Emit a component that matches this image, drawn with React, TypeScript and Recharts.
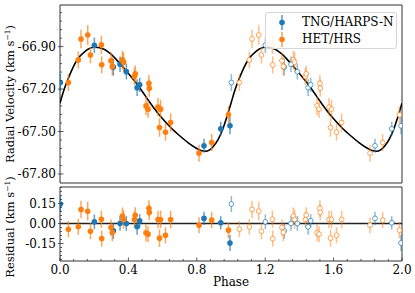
import {
  ComposedChart,
  Scatter,
  Line,
  XAxis,
  YAxis,
  ErrorBar,
  ReferenceArea,
  ReferenceLine,
  Legend,
} from 'recharts';

const FONT = '"DejaVu Serif", serif';
const BLUE = '#1f77b4';
const ORANGE = '#ff7f0e';
const SPINE = '#333';

const SERIES_NAMES = ['TNG/HARPS-N', 'HET/HRS'];

// TNG/HARPS-N (phase, RV km/s, error, residual)
const harpsPhase = [0.002, 0.201, 0.312, 0.351, 0.388, 0.451, 0.466, 0.842, 0.94, 0.994];
const harpsRV = [-67.154, -66.89, -67.045, -67.025, -67.077, -67.19, -67.17, -67.601, -67.481, -67.46];
const harpsErr = [0.06, 0.055, 0.06, 0.055, 0.055, 0.06, 0.05, 0.05, 0.05, 0.06];
const harpsRes = [0.145, 0.012, -0.055, 0.0, 0.0, -0.025, 0.02, 0.038, 0.005, -0.146];

// HET/HRS
const hrsPhase = [
  0.049, 0.107, 0.123, 0.162, 0.178, 0.242, 0.244, 0.298, 0.306, 0.365, 0.372, 0.435, 0.44,
  0.503, 0.515, 0.52, 0.522, 0.573, 0.582, 0.588, 0.617, 0.647, 0.813, 0.887, 0.985,
];
const hrsRV = [
  -67.154, -66.994, -66.846, -66.818, -66.959, -66.888, -67.029, -67.0, -67.04, -66.994, -67.01,
  -67.112, -67.093, -67.319, -67.342, -67.16, -67.194, -67.328, -67.472, -67.342, -67.505, -67.437,
  -67.653, -67.578, -67.382,
];
const hrsErr = [
  0.06, 0.06, 0.065, 0.07, 0.06, 0.065, 0.06, 0.06, 0.065, 0.065, 0.07, 0.06, 0.06, 0.065, 0.06,
  0.06, 0.06, 0.065, 0.065, 0.065, 0.06, 0.065, 0.06, 0.06, 0.06,
];
const hrsRes = [
  -0.043, -0.025, 0.105, 0.092, -0.058, 0.032, -0.113, -0.03, -0.068, 0.055, 0.03, 0.03, 0.062,
  -0.07, -0.08, 0.113, 0.083, 0.03, -0.11, 0.03, -0.088, 0.03, -0.013, 0.025, -0.05,
];

// orbit model, one cycle
const modelPhase = [
  0, 0.025, 0.05, 0.075, 0.1, 0.15, 0.2, 0.25, 0.3, 0.35, 0.4, 0.45, 0.5, 0.55, 0.6, 0.65, 0.7,
  0.75, 0.8, 0.825, 0.85, 0.875, 0.9, 0.925, 0.95, 0.975,
];
const modelRV = [
  -67.3, -67.2, -67.12, -67.05, -66.995, -66.93, -66.905, -66.915, -66.955, -67.02, -67.09,
  -67.165, -67.25, -67.335, -67.41, -67.475, -67.53, -67.58, -67.62, -67.635, -67.64, -67.63,
  -67.6, -67.555, -67.49, -67.4,
];

// axes
const X_DOMAIN = [0, 2];
const RV_DOMAIN = [-67.864, -66.606];
const RES_DOMAIN = [-0.281, 0.273];
const X_MAJOR = [0, 0.4, 0.8, 1.2, 1.6, 2.0];
const X_LABELS = ['0.0', '0.4', '0.8', '1.2', '1.6', '2.0'];
const X_MINOR = [0.08, 0.16, 0.24, 0.32, 0.48, 0.56, 0.64, 0.72, 0.88, 0.96, 1.04, 1.12, 1.28, 1.36, 1.44, 1.52, 1.68, 1.76, 1.84, 1.92];
const RV_MAJOR = [-66.9, -67.2, -67.5, -67.8];
const RV_LABELS = ['-66.90', '-67.20', '-67.50', '-67.80'];
const RV_MINOR = [-66.66, -66.72, -66.78, -66.84, -66.96, -67.02, -67.08, -67.14, -67.26, -67.32, -67.38, -67.44, -67.56, -67.62, -67.68, -67.74];
const RES_MAJOR = [0.15, 0, -0.15];
const RES_LABELS = ['0.15', '0.00', '-0.15'];
const RES_MINOR = [0.27, 0.24, 0.21, 0.18, 0.12, 0.09, 0.06, 0.03, -0.03, -0.06, -0.09, -0.12, -0.18, -0.21, -0.24, -0.27];

const pts = (phase: number[], vals: number[], err: number[], shift: number) =>
  phase.map((p, i) => ({ x: p + shift, y: vals[i], err: err[i] }));

const modelData = [0, 1]
  .flatMap((k) => modelPhase.map((p, i) => ({ x: p + k, y: modelRV[i] })))
  .concat({ x: 2, y: modelRV[0] });

const xTicks = [...X_MAJOR, ...X_MINOR].sort((a, b) => a - b);

const findIdx = (arr: number[], v: number) => arr.findIndex((m) => Math.abs(m - v) < 1e-6);

const XTick = (props: any) => {
  const { x, y, payload, inward, showLabels } = props;
  const idx = findIdx(X_MAJOR, payload.value);
  const len = idx >= 0 ? 3.5 : 2;
  return (
    <g>
      <line x1={x} x2={x} y1={y} y2={y + inward * len} stroke={SPINE} strokeWidth={0.8} />
      {showLabels && idx >= 0 && (
        <text x={x} y={y + 13} textAnchor="middle" fontFamily={FONT} fontSize={12} fill="#000">
          {X_LABELS[idx]}
        </text>
      )}
    </g>
  );
};

const YTick = (props: any) => {
  const { x, y, payload, major, labels } = props;
  const idx = findIdx(major, payload.value);
  return (
    <g>
      <line
        x1={idx >= 0 ? x - 2 : x}
        x2={x + (idx >= 0 ? 3.5 : 2)}
        y1={y}
        y2={y}
        stroke={SPINE}
        strokeWidth={0.8}
      />
      {idx >= 0 && (
        <text x={x - 4} y={y} dy="0.36em" textAnchor="end" fontFamily={FONT} fontSize={12} fill="#000">
          {labels[idx]}
        </text>
      )}
    </g>
  );
};

const VLabel = (props: any) => {
  const { viewBox, title, shift = 0 } = props;
  const cy = (viewBox ? viewBox.y + viewBox.height / 2 : 94) + shift;
  const cx = 10;
  return (
    <text
      x={cx}
      y={cy}
      transform={`rotate(-90 ${cx} ${cy})`}
      textAnchor="middle"
      dy="0.36em"
      fontFamily={FONT}
      fontSize={11.5}
      fill="#000"
    >
      {title}
      <tspan dy={-4} fontSize={7.5}>
        −1
      </tspan>
      <tspan dy={4}>)</tspan>
    </text>
  );
};

const PhaseLabel = (props: any) => {
  const { viewBox } = props;
  const cx = viewBox ? viewBox.x + viewBox.width / 2 : 231;
  const top = viewBox ? viewBox.y : 0;
  return (
    <text x={cx} y={top + 25} textAnchor="middle" fontFamily={FONT} fontSize={12} fill="#000">
      Phase
    </text>
  );
};

const Filled = (color: string) => (p: any) => <circle cx={p.cx} cy={p.cy} r={2.8} fill={color} />;
const Open = (color: string) => (p: any) => (
  <circle cx={p.cx} cy={p.cy} r={2.4} fill="#fff" stroke={color} strokeOpacity={0.7} strokeWidth={1} />
);

const LegendBox = () => (
  <div
    style={{
      width: 132,
      height: 37,
      boxSizing: 'border-box',
      border: '1px solid #d6d6d6',
      borderRadius: 3,
      background: 'rgba(255,255,255,0.8)',
      position: 'relative',
      fontFamily: FONT,
      fontSize: 12,
      color: '#000',
    }}
  >
    {SERIES_NAMES.map((name, i) => {
      const color = i === 0 ? BLUE : ORANGE;
      return (
        <div
          key={name}
          style={{ position: 'absolute', left: 0, top: 1 + i * 17, height: 17, display: 'flex', alignItems: 'center' }}
        >
          <svg width={36} height={17}>
            <line x1={16} x2={16} y1={1} y2={16} stroke={color} strokeOpacity={0.75} strokeWidth={1.5} />
            <circle cx={16} cy={8.5} r={2.8} fill={color} />
          </svg>
          <span style={{ lineHeight: '17px' }}>{name}</span>
        </div>
      );
    })}
  </div>
);

type Set = { data: any[]; color: string; open: boolean; key: string };

const renderSets = (sets: Set[]) =>
  sets.map((s) => (
    <Scatter
      key={s.key}
      name={s.key}
      data={s.data}
      xAxisId="b"
      yAxisId="l"
      shape={s.open ? Open(s.color) : Filled(s.color)}
      isAnimationActive={false}
    >
      <ErrorBar
        dataKey="err"
        direction="y"
        width={0}
        stroke={s.color}
        strokeWidth={1.5}
        strokeOpacity={s.open ? 0.5 : 0.7}
        isAnimationActive={false}
      />
    </Scatter>
  ));

export default function App() {
  const rvSets: Set[] = [
    { key: 'harpsOpen', data: pts(harpsPhase, harpsRV, harpsErr, 1), color: BLUE, open: true },
    { key: 'hrsOpen', data: pts(hrsPhase, hrsRV, hrsErr, 1), color: ORANGE, open: true },
    { key: 'harps', data: pts(harpsPhase, harpsRV, harpsErr, 0), color: BLUE, open: false },
    { key: 'hrs', data: pts(hrsPhase, hrsRV, hrsErr, 0), color: ORANGE, open: false },
  ];
  const resSets: Set[] = [
    { key: 'harpsOpen', data: pts(harpsPhase, harpsRes, harpsErr, 1), color: BLUE, open: true },
    { key: 'hrsOpen', data: pts(hrsPhase, hrsRes, hrsErr, 1), color: ORANGE, open: true },
    { key: 'harps', data: pts(harpsPhase, harpsRes, harpsErr, 0), color: BLUE, open: false },
    { key: 'hrs', data: pts(hrsPhase, hrsRes, hrsErr, 0), color: ORANGE, open: false },
  ];

  const xAxes = (showLabels: boolean, bottomHeight: number, label?: any) => [
    <XAxis
      key="xb"
      xAxisId="b"
      type="number"
      dataKey="x"
      domain={X_DOMAIN}
      allowDataOverflow
      ticks={xTicks}
      interval={0}
      height={bottomHeight}
      tickSize={0}
      tickMargin={0}
      axisLine={false}
      tickLine={false}
      tick={<XTick inward={-1} showLabels={showLabels} />}
      label={label}
    />,
    <XAxis
      key="xt"
      xAxisId="t"
      orientation="top"
      type="number"
      dataKey="x"
      domain={X_DOMAIN}
      allowDataOverflow
      ticks={xTicks}
      interval={0}
      height={0}
      tickSize={0}
      tickMargin={0}
      axisLine={false}
      tickLine={false}
      tick={<XTick inward={1} showLabels={false} />}
    />,
  ];

  return (
    <div style={{ position: 'absolute', left: 0, top: 0, width: 415, height: 293, background: '#fff' }}>
      <div style={{ position: 'absolute', left: 0, top: 0 }}>
        <ComposedChart width={415} height={190} margin={{ top: 5, right: 13, bottom: 7, left: 0 }}>
          {xAxes(false, 0)}
          <YAxis
            yAxisId="l"
            type="number"
            dataKey="y"
            domain={RV_DOMAIN}
            allowDataOverflow
            ticks={[...RV_MAJOR, ...RV_MINOR]}
            interval={0}
            width={60}
            tickSize={0}
            tickMargin={0}
            axisLine={false}
            tickLine={false}
            tick={<YTick major={RV_MAJOR} labels={RV_LABELS} />}
            label={<VLabel title="Radial Velocity (km s" />}
          />
          <Line
            data={modelData}
            xAxisId="b"
            yAxisId="l"
            dataKey="y"
            type="monotone"
            stroke="#000"
            strokeWidth={1.6}
            dot={false}
            activeDot={false}
            isAnimationActive={false}
          />
          {renderSets(rvSets)}
          <ReferenceArea
            xAxisId="b"
            yAxisId="l"
            x1={X_DOMAIN[0]}
            x2={X_DOMAIN[1]}
            y1={RV_DOMAIN[0]}
            y2={RV_DOMAIN[1]}
            fill="none"
            stroke={SPINE}
            strokeWidth={1}
            ifOverflow="visible"
          />
          <Legend
            layout="vertical"
            align="center"
            verticalAlign="middle"
            wrapperStyle={{ left: 265, top: 12, width: 132, height: 37 }}
            content={<LegendBox />}
          />
        </ComposedChart>
      </div>
      <div style={{ position: 'absolute', left: 0, top: 163 }}>
        <ComposedChart width={415} height={130} margin={{ top: 24, right: 13, bottom: 0, left: 0 }}>
          {xAxes(true, 32, <PhaseLabel />)}
          <YAxis
            yAxisId="l"
            type="number"
            dataKey="y"
            domain={RES_DOMAIN}
            allowDataOverflow
            ticks={[...RES_MAJOR, ...RES_MINOR]}
            interval={0}
            width={60}
            tickSize={0}
            tickMargin={0}
            axisLine={false}
            tickLine={false}
            tick={<YTick major={RES_MAJOR} labels={RES_LABELS} />}
            label={<VLabel title="Residual (km s" shift={3} />}
          />
          <ReferenceLine xAxisId="b" yAxisId="l" y={0} stroke="#222" strokeWidth={1.5} />
          {renderSets(resSets)}
          <ReferenceArea
            xAxisId="b"
            yAxisId="l"
            x1={X_DOMAIN[0]}
            x2={X_DOMAIN[1]}
            y1={RES_DOMAIN[0]}
            y2={RES_DOMAIN[1]}
            fill="none"
            stroke={SPINE}
            strokeWidth={1}
            ifOverflow="visible"
          />
        </ComposedChart>
      </div>
    </div>
  );
}
